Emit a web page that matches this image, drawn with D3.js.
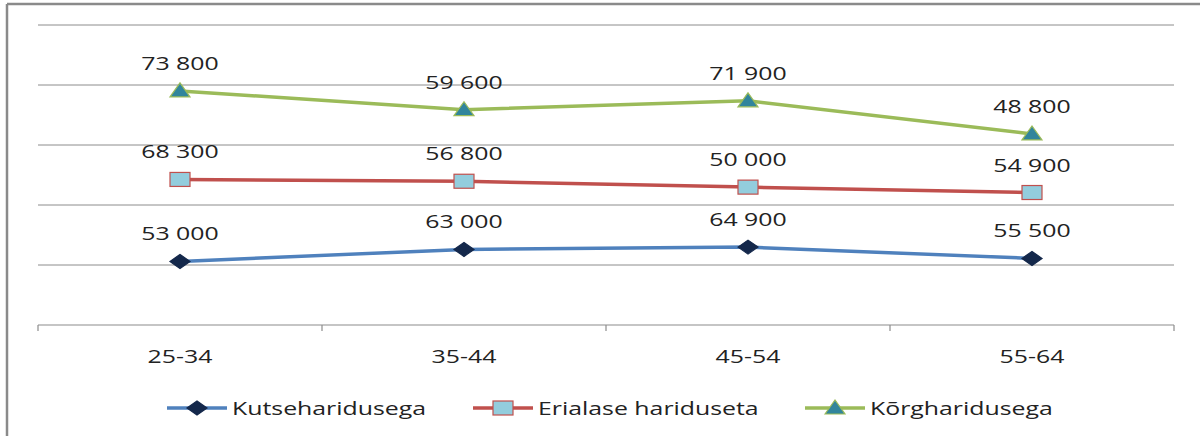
<!DOCTYPE html>
<html>
<head>
<meta charset="utf-8">
<script src="https://cdn.jsdelivr.net/npm/d3@7"></script>
<style>
  body { margin: 0; background: #fff; }
  text { font-family: "Open Sans", sans-serif; fill: #222; }
</style>
</head>
<body>
<svg id="svg" width="1200" height="436"></svg>
<script>
// age groups on the x axis
const ageGroups = ['25-34', '35-44', '45-54', '55-64'];
const seriesNames = ['Kutseharidusega', 'Erialase hariduseta', 'Kõrgharidusega'];
// values per series (the lines are stacked)
const kutse = [53000, 63000, 64900, 55500];
const erialase = [68300, 56800, 50000, 54900];
const korg = [73800, 59600, 71900, 48800];
const yTicks = [0, 50000, 100000, 150000, 200000, 250000];

const lineColours = ['#4f81bd', '#c0504d', '#9bbb59'];
const markerFill = ['#14284b', '#93cddd', '#31859c'];
const markerStroke = ['#14284b', '#c0504d', '#9bbb59'];
const stretch = 1.38;

const svg = d3.select('#svg');
const fmt = v => d3.format(',')(v).replace(/,/g, ' ');

// stretch text horizontally like the original
function widen(sel) {
  sel.each(function() {
    const len = this.getComputedTextLength();
    d3.select(this).attr('textLength', len * stretch).attr('lengthAdjust', 'spacingAndGlyphs');
  });
}

// frame
svg.append('line').attr('x1', 7).attr('x2', 7).attr('y1', 4).attr('y2', 436)
  .attr('stroke', '#8a8a8a').attr('stroke-width', 2.5);
svg.append('line').attr('x1', 7).attr('x2', 1200).attr('y1', 4).attr('y2', 4)
  .attr('stroke', '#8a8a8a').attr('stroke-width', 2.5);

const xScale = d3.scaleBand().domain(ageGroups).range([38, 1174]);
const yScale = d3.scaleLinear().domain([0, 250000]).range([325, 25]);

// gridlines
svg.append('g').selectAll('line')
  .data(yTicks.slice(1))
  .join('line')
  .attr('x1', 38).attr('x2', 1174)
  .attr('y1', d => yScale(d)).attr('y2', d => yScale(d))
  .attr('stroke', '#8c8c8c').attr('stroke-width', 1);

// x axis
const xAxisG = svg.append('g').attr('transform', `translate(0,${yScale(0)})`);
xAxisG.append('line').attr('x1', 38).attr('x2', 1174)
  .attr('stroke', '#8c8c8c').attr('stroke-width', 1.2);
const bounds = ageGroups.map(d => xScale(d)).concat([xScale.range()[1]]);
xAxisG.selectAll('.tick-mark')
  .data(bounds)
  .join('line')
  .attr('class', 'tick-mark')
  .attr('x1', d => d).attr('x2', d => d)
  .attr('y1', 0).attr('y2', 6)
  .attr('stroke', '#8c8c8c').attr('stroke-width', 1.2);
xAxisG.selectAll('.tick-label')
  .data(ageGroups)
  .join('text')
  .attr('class', 'tick-label')
  .attr('x', d => xScale(d) + xScale.bandwidth() / 2)
  .attr('y', 38)
  .attr('text-anchor', 'middle')
  .style('font-size', '18px')
  .text(d => d)
  .call(widen);

// stacked data
const table = ageGroups.map((g, i) => ({ group: g, s0: kutse[i], s1: erialase[i], s2: korg[i] }));
const stacked = d3.stack().keys(['s0', 's1', 's2'])(table);
const raw = [kutse, erialase, korg];

const xPos = d => xScale(d.data.group) + xScale.bandwidth() / 2;
const line = d3.line().x(xPos).y(d => yScale(d[1]));

function marker(g, idx) {
  if (idx === 0) {
    g.append('path').attr('d', 'M-10,0L0,-7L10,0L0,7Z');
  } else if (idx === 1) {
    g.append('rect').attr('x', -10).attr('y', -7).attr('width', 20).attr('height', 14);
  } else {
    g.append('path').attr('d', 'M-10,6L0,-8L10,6Z');
  }
  g.selectAll('path, rect')
    .attr('fill', markerFill[idx])
    .attr('stroke', markerStroke[idx])
    .attr('stroke-width', 1.2);
}

stacked.forEach((layer, idx) => {
  svg.append('path')
    .datum(layer)
    .attr('fill', 'none')
    .attr('stroke', lineColours[idx])
    .attr('stroke-width', 3.5)
    .attr('d', line);

  layer.forEach((d, i) => {
    const g = svg.append('g').attr('transform', `translate(${xPos(d)},${yScale(d[1])})`);
    marker(g, idx);
    svg.append('text')
      .attr('x', xPos(d))
      .attr('y', yScale(d[1]) - 21)
      .attr('text-anchor', 'middle')
      .style('font-size', '18px')
      .text(fmt(raw[idx][i]))
      .call(widen);
  });
});

// legend
const legendX = [167, 473, 805];
seriesNames.forEach((name, idx) => {
  const lg = svg.append('g').attr('transform', `translate(${legendX[idx]},408)`);
  lg.append('line').attr('x1', 0).attr('x2', 60).attr('y1', 0).attr('y2', 0)
    .attr('stroke', lineColours[idx]).attr('stroke-width', 3.5);
  marker(lg.append('g').attr('transform', 'translate(30,0)'), idx);
  lg.append('text')
    .attr('x', 65)
    .attr('y', 7)
    .style('font-size', '18px')
    .text(name)
    .call(widen);
});
</script>
</body>
</html>
